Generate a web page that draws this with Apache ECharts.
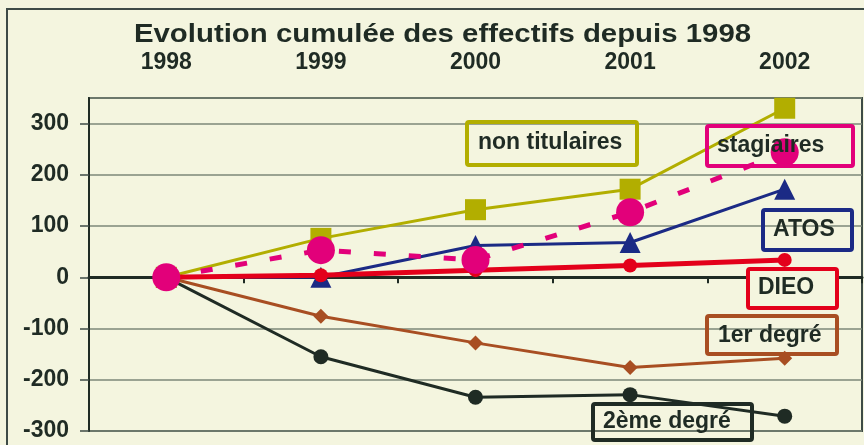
<!DOCTYPE html>
<html>
<head>
<meta charset="utf-8">
<script src="https://cdn.jsdelivr.net/npm/echarts@6/dist/echarts.min.js"></script>
<style>
html,body{margin:0;padding:0;background:#F4F5DF;}
#c{width:864px;height:445px;}
</style>
</head>
<body>
<div id="c"></div>
<script>
const years = ['1998','1999','2000','2001','2002'];
const nonTitulaires = [0, 76, 132, 172, 330];
const stagiaires = [0, 53, 34, 127, 244];
const atos = [0, 0, 62, 68, 172];
const dieo = [0, 4, 14, 23, 34];
const premierDegre = [0, -76, -128, -176, -158];
const deuxiemeDegre = [0, -155, -234, -229, -271];
const yTicks = [-300, -200, -100, 0, 100, 200, 300];
const titleText = 'Evolution cumulée des effectifs depuis 1998';
const labelTexts = ['non titulaires', 'stagiaires', 'ATOS', 'DIEO', '1er degré', '2ème degré'];

const DARK = '#1F2B24';
const BG = '#F4F5DF';
const cOlive = '#B2AE00', cMag = '#E2007A', cNavy = '#1B2A85', cRed = '#E3001B', cBrown = '#A84E22';
const FONT = '"Liberation Sans", Arial, sans-serif';

const chart = echarts.init(document.getElementById('c'), null, {renderer: 'canvas'});

function box(x, y, w, h, color, text, tx, ty, fill) {
  return [{
    type: 'rect', z: 100,
    shape: {x: x, y: y, width: w, height: h, r: 2},
    style: {fill: fill || 'none', stroke: color, lineWidth: 4}
  }, {
    type: 'text', z: 101, x: tx, y: ty,
    style: {text: text, fill: DARK, font: 'bold 23px ' + FONT, textAlign: 'left', textVerticalAlign: 'middle'}
  }];
}

const graphics = [].concat(
  [{type: 'rect', z: -1, shape: {x: 7, y: 9, width: 900, height: 500}, style: {fill: 'none', stroke: '#3E4B46', lineWidth: 2}}],
  [{type: 'text', z: 50, x: 442.5, y: 35, scaleX: 1.13,
    style: {text: titleText, fill: DARK, font: 'bold 26px ' + FONT, textAlign: 'center', textVerticalAlign: 'middle'}}],
  box(467, 122, 170, 43, cOlive, labelTexts[0], 478, 143),
  box(707, 126, 146, 40, cMag, labelTexts[1], 717, 146),
  box(763, 210, 89, 40, cNavy, labelTexts[2], 773, 230),
  box(748, 269, 89, 39, cRed, labelTexts[3], 758, 288, BG),
  box(707, 316, 130, 38, cBrown, labelTexts[4], 718, 336),
  box(593, 404, 159, 36, DARK, labelTexts[5], 603, 422)
);

const option = {
  backgroundColor: BG,
  animation: false,
  grid: {left: 89, right: 2, top: 98, bottom: 14, show: true, borderColor: '#3E4B46', borderWidth: 2, backgroundColor: 'transparent'},
  xAxis: [{
    type: 'category', data: years, boundaryGap: true,
    axisLine: {onZero: true, lineStyle: {color: DARK, width: 3}},
    axisTick: {show: true, length: 6, lineStyle: {color: DARK, width: 2}},
    axisLabel: {show: false},
    splitLine: {show: false}
  }, {
    type: 'category', data: years, boundaryGap: true, position: 'top',
    axisLine: {show: false}, axisTick: {show: false},
    axisLabel: {margin: 24, fontFamily: FONT, fontWeight: 'bold', fontSize: 23, color: DARK}
  }],
  yAxis: {
    type: 'value', min: -300, max: 350, interval: 100,
    axisLine: {show: true, lineStyle: {color: DARK, width: 2}},
    axisTick: {show: true, length: 9, lineStyle: {color: '#3E4B46', width: 1.5}},
    axisLabel: {
      margin: 20, fontFamily: FONT, fontWeight: 'bold', fontSize: 23, color: DARK,
      showMaxLabel: false,
      formatter: v => yTicks.indexOf(v) >= 0 ? String(v) : ''
    },
    splitLine: {show: true, lineStyle: {color: '#7D8778', width: 1.5}}
  },
  series: [
    {name: 'ATOS', type: 'line', data: atos, symbol: 'triangle', symbolSize: 21, z: 2,
      itemStyle: {color: cNavy}, lineStyle: {color: cNavy, width: 3}},
    {name: '2ème degré', type: 'line', data: deuxiemeDegre, symbol: 'circle', symbolSize: 15, z: 2,
      itemStyle: {color: DARK}, lineStyle: {color: DARK, width: 3}},
    {name: '1er degré', type: 'line', data: premierDegre, symbol: 'diamond', symbolSize: 15, z: 2,
      itemStyle: {color: cBrown}, lineStyle: {color: cBrown, width: 3}},
    {name: 'non titulaires', type: 'line', data: nonTitulaires, symbol: 'rect', symbolSize: 21, z: 3,
      itemStyle: {color: cOlive}, lineStyle: {color: cOlive, width: 3}},
    {name: 'DIEO', type: 'line', data: dieo, symbol: 'circle', symbolSize: 14, z: 4,
      itemStyle: {color: cRed}, lineStyle: {color: cRed, width: 5}},
    {name: 'stagiaires', type: 'line', data: stagiaires, symbol: 'circle', symbolSize: 28, z: 5,
      itemStyle: {color: cMag}, lineStyle: {color: cMag, width: 5, type: [12, 23]}}
  ],
  graphic: graphics
};
chart.setOption(option);
</script>
</body>
</html>
